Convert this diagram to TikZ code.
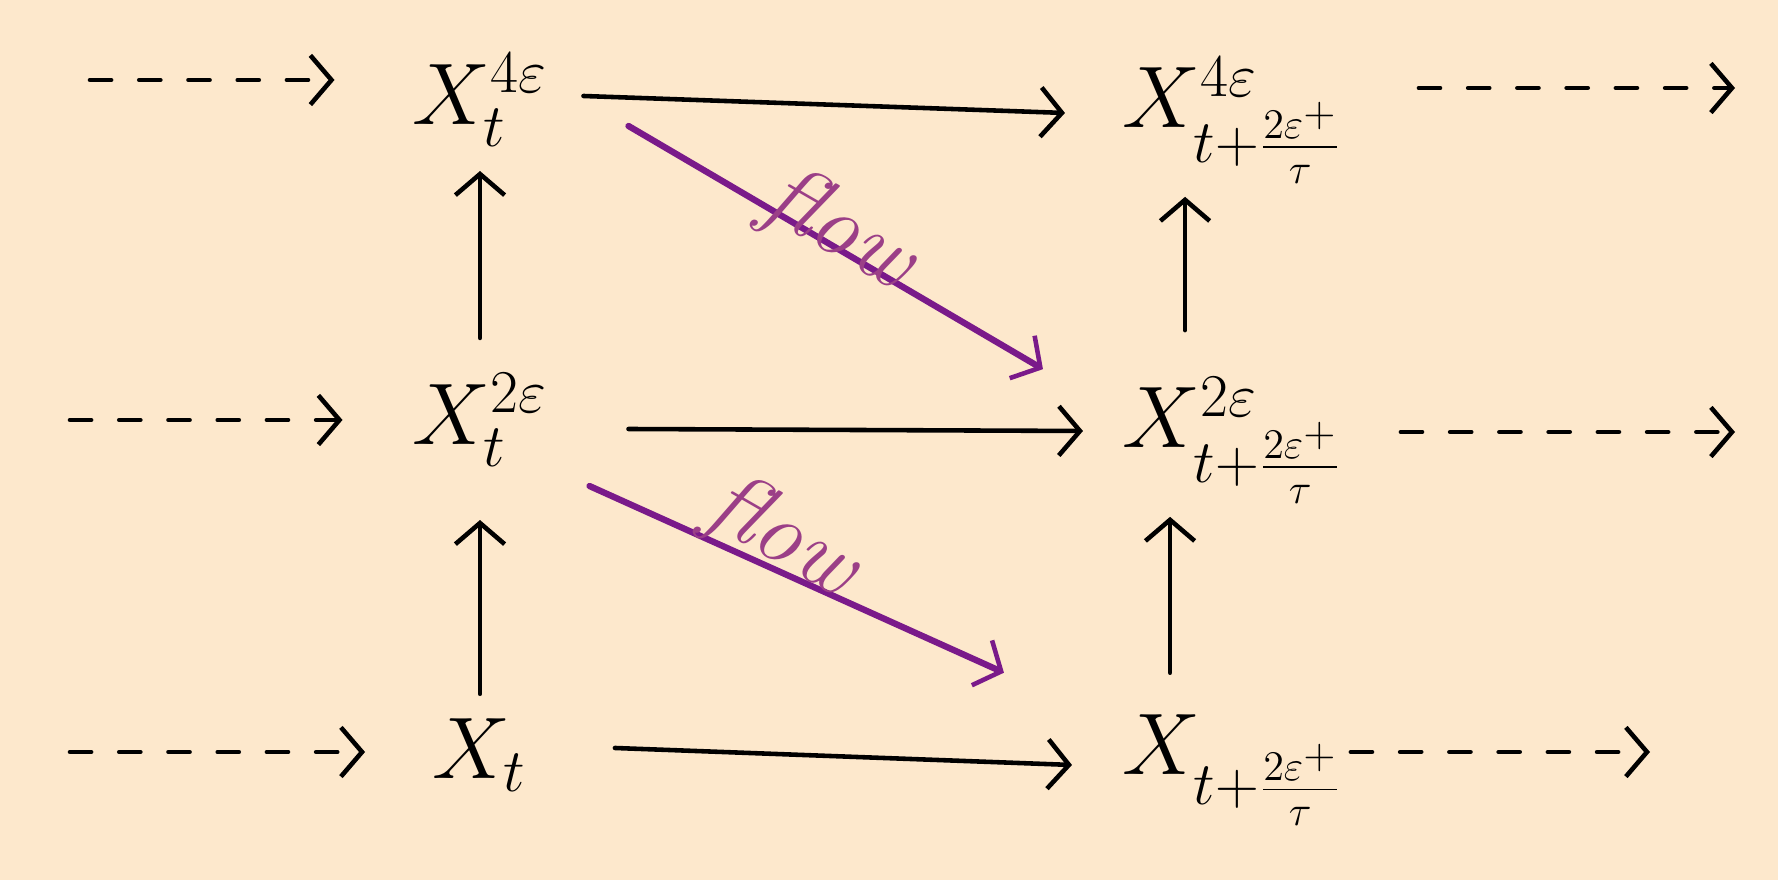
\documentclass[tikz,border=0pt]{standalone}
\usetikzlibrary{arrows.meta}
\definecolor{paper}{HTML}{FDE8CC}
\definecolor{flowline}{HTML}{7A1A8A}
\definecolor{flowtext}{HTML}{9B3F87}
\tikzset{
  hand/.style={line width=1.3pt, line cap=round, -{Straight Barb[length=6pt,width=14pt,line width=1.3pt]}},
  dashhand/.style={hand, dash pattern=on 6pt off 8pt},
  flowarrow/.style={hand, draw=flowline, line width=1.8pt},
  flowlabel/.style={text=flowtext, font=\fontsize{26}{26}\selectfont\itshape, rotate=-30},
  term/.style={font=\fontsize{24}{28}\selectfont, inner sep=2pt},
}
\begin{document}
\begin{tikzpicture}[x=0.01cm, y=-0.01cm]
\fill[paper] (0,0) rectangle (1778,880);
% left column
\node[term] (L1) at (480,100) {$X_t^{4\varepsilon}$};
\node[term] (L2) at (480,420) {$X_t^{2\varepsilon}$};
\node[term] (L3) at (480,755) {$X_t$};
% right column
\node[term, anchor=west] (R1) at (1115,120) {$X^{4\varepsilon}_{t+\frac{2\varepsilon^+}{\tau}}$};
\node[term, anchor=west] (R2) at (1115,440) {$X^{2\varepsilon}_{t+\frac{2\varepsilon^+}{\tau}}$};
\node[term, anchor=west] (R3) at (1115,770) {$X_{t+\frac{2\varepsilon^+}{\tau}}$};
% free ends of the dashed lines
\coordinate (in1) at (90,80);
\coordinate (in2) at (70,420);
\coordinate (in3) at (70,752);
\coordinate (out1) at (1735,88);
\coordinate (out2) at (1735,432);
\coordinate (out3) at (1650,752);
\draw[dashhand, shorten >=0.7cm] (in1) -- (L1.west |- in1);
\draw[dashhand, shorten >=0.62cm] (in2) -- (L2.west |- in2);
\draw[dashhand, shorten >=0.6cm] (in3) -- (L3.west |- in3);
\draw[dashhand, shorten <=0.68cm] (R1.east |- out1) -- (out1);
\draw[dashhand, shorten <=0.5cm] (R2.east |- out2) -- (out2);
\draw[dashhand] (R3.east |- out3) -- (out3);
% horizontal maps
\draw[hand] ([xshift=0.28cm,yshift=0.04cm]L1.east) -- ([xshift=-0.5cm,yshift=0.07cm]R1.west);
\draw[hand] ([xshift=0.73cm,yshift=-0.09cm]L2.east) -- ([xshift=-0.32cm,yshift=0.09cm]R2.west);
\draw[hand] ([xshift=0.8cm,yshift=0.07cm]L3.east) -- ([xshift=-0.43cm,yshift=0.05cm]R3.west);
% vertical maps
\draw[hand, shorten <=0.17cm, shorten >=0.46cm] (L3.north) -- (L2.south);
\draw[hand, shorten <=0.28cm, shorten >=0.17cm] (L2.north) -- (L1.south);
\draw[hand, shorten <=0.34cm, shorten >=0.06cm] ([xshift=0.55cm]R3.north west) -- ([xshift=0.55cm]R2.south west);
\draw[hand, shorten <=0.39cm, shorten >=0.06cm] ([xshift=0.7cm]R2.north west) -- ([xshift=0.7cm]R1.south west);
% flows
\draw[flowarrow] ([xshift=0.73cm,yshift=0.28cm]L1.south east) -- ([xshift=-0.72cm]R2.north west);
\draw[flowarrow] ([xshift=0.34cm,yshift=-0.12cm]L2.south east) -- ([xshift=-1.11cm,yshift=0.34cm]R3.north west);
\node[flowlabel] (f1) at (839,232) {flow};
\node[flowlabel] (f2) at (782,539) {flow};
\end{tikzpicture}
\end{document}
